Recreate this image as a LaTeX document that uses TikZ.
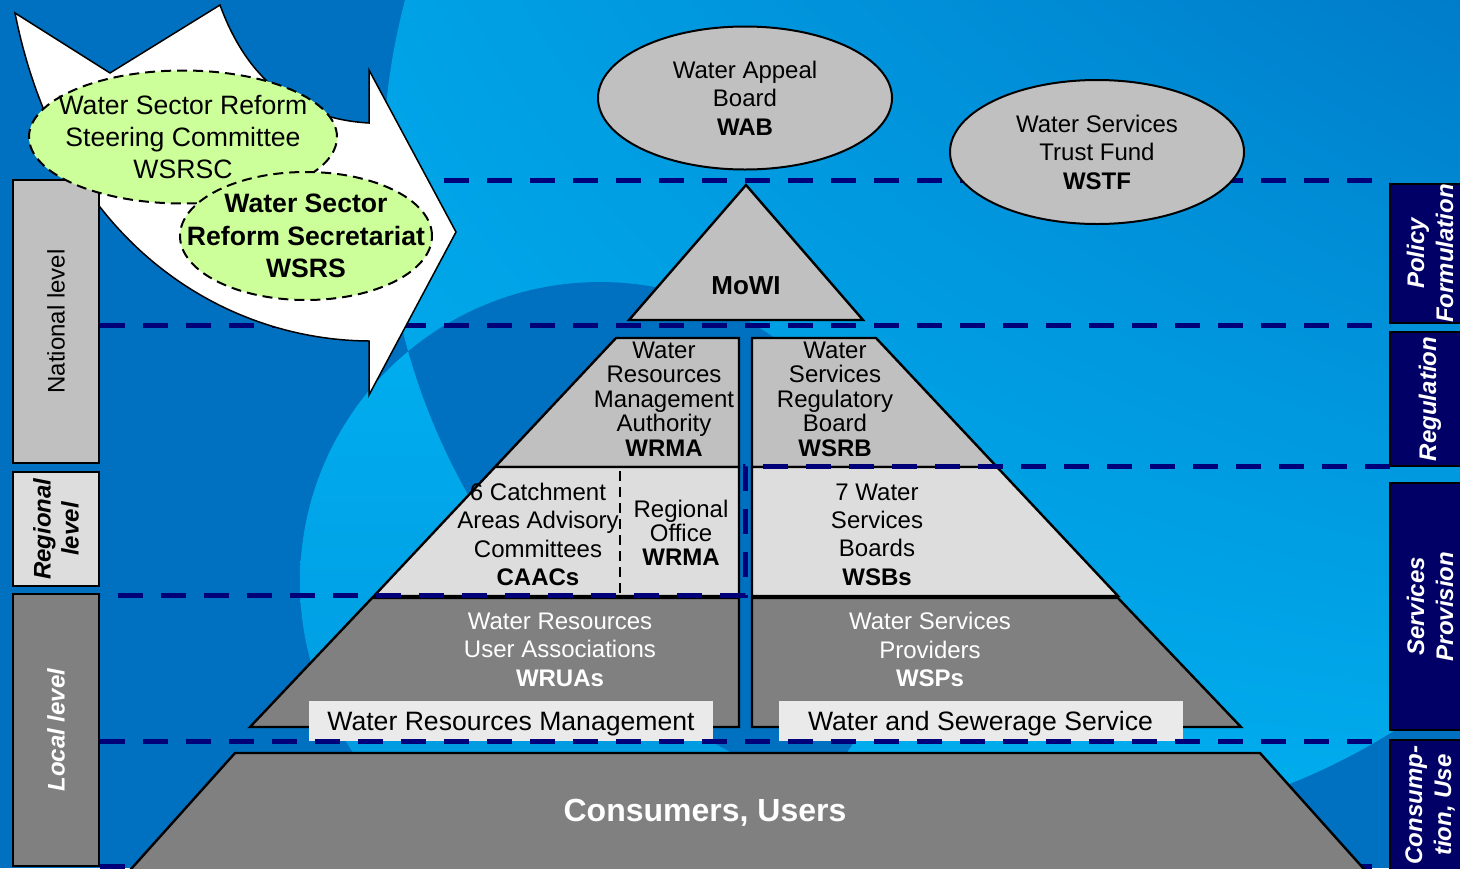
\documentclass[tikz,border=0pt]{standalone}
\usepackage{fontspec}
\setmainfont{Liberation Sans}
\usetikzlibrary{shapes.geometric,shadings}

\definecolor{bgDark}{RGB}{0,112,192}
\definecolor{bgLight}{RGB}{0,176,240}
\definecolor{bgMid}{RGB}{0,124,202}
\definecolor{bgSoft}{RGB}{0,150,222}
\definecolor{dashNavy}{RGB}{0,0,120}
\definecolor{roleNavy}{RGB}{0,0,102}
\definecolor{tierGray}{RGB}{192,192,192}
\definecolor{tierLight}{RGB}{221,221,221}
\definecolor{tierDark}{RGB}{128,128,128}
\definecolor{labelGray}{RGB}{234,234,234}
\definecolor{reformGreen}{RGB}{204,255,153}

\begin{document}
\begin{tikzpicture}[x=0.5pt,y=-0.5pt]
  \tikzstyle{levelDash} = [draw=dashNavy, line width=2.5pt, dash pattern=on 12.5pt off 9pt];
  \tikzstyle{tier} = [draw=black, line width=1.2pt];
  \tikzstyle{boardOval} = [ellipse, draw, line width=1pt, fill=tierGray, inner sep=0pt];
  \tikzstyle{reformOval} = [ellipse, draw, line width=1pt, dash pattern=on 5pt off 3pt, fill=reformGreen, inner sep=0pt];
  \tikzstyle{levelBox} = [draw, line width=1pt, rotate=90, inner sep=0pt, align=center];
  \tikzstyle{roleBox} = [draw, line width=1pt, fill=roleNavy, rotate=90, inner sep=0pt, align=center, text=white, font={\fontsize{12}{14.5}\selectfont\bfseries\itshape}];
  \tikzstyle{ovalText} = [align=center, font={\fontsize{12}{14.25}\selectfont}];
  \tikzstyle{reformText} = [align=center, font={\fontsize{13.3}{16.1}\selectfont}];
  \tikzstyle{tierText} = [align=center, font={\fontsize{12}{14.2}\selectfont}];
  \tikzstyle{tightText} = [align=center, font={\fontsize{12}{12.25}\selectfont}];
  \tikzstyle{serviceLabel} = [fill=labelGray, minimum width=202pt, minimum height=20pt, inner sep=0pt, text height=9.5pt, text depth=0pt, font={\fontsize{13.3}{16}\selectfont}];

  \useasboundingbox (0,0) rectangle (1460,868);
  \clip (0,0) rectangle (1460,868);

  % background bubbles
  \fill[bgDark] (0,0) rectangle (1460,868);
  \begin{scope}
    \clip (1044,170) circle (330.5pt);
    \shade[upper left=bgLight, upper right=bgMid, lower left=bgLight, lower right=bgLight] (0,0) rectangle (1460,868);
  \end{scope}
  \begin{scope}
    \clip (600,582) circle (150pt);
    \shade[top color=bgLight, bottom color=bgSoft] (300,282) rectangle (900,882);
  \end{scope}
  \begin{scope}
    \clip (1044,170) circle (330.5pt);
    \fill[bgDark] (600,582) circle (150pt);
  \end{scope}

  % level lines under the arrow
  \draw[levelDash] (100,180) -- (1390,180);
  \draw[levelDash] (100,325) -- (1390,325);
  \draw[levelDash] (100,866) -- (1390,866);

  % reform arrow
  \draw[fill=white, line width=0.75pt] (15,13) -- (110,73) -- (220,5)
    .. controls (240,60) and (280,118) .. (369,123) -- (369,70) -- (456,232)
    -- (369,395) -- (369,341) .. controls (220,340) and (60,240) .. (15,13) -- cycle;

  % levels on the left
  \node[levelBox, fill=tierGray, minimum width=141.5pt, minimum height=43pt, font={\fontsize{12}{14}\selectfont}] (national) at (56,321.5) {National level};
  \node[levelBox, fill=tierLight, minimum width=57pt, minimum height=43pt, font={\fontsize{12}{14}\selectfont\bfseries\itshape}] (regional) at (56,529) {Regional\\level};
  \node[levelBox, fill=tierDark, minimum width=136pt, minimum height=43pt, text=white, font={\fontsize{12}{14}\selectfont\bfseries\itshape}] (local) at (56,730) {Local level};

  % reform bodies
  \node[reformOval, minimum width=154pt, minimum height=66.5pt] (wsrsc) at (183,137) {};
  \node[reformText] at (wsrsc) {Water Sector Reform\\Steering Committee\\WSRSC};
  \node[reformOval, minimum width=126pt, minimum height=64pt] (wsrs) at (306,236) {};
  \node[reformText, font={\fontsize{13.3}{16.25}\selectfont\bfseries}] at (wsrs) {Water Sector\\Reform Secretariat\\WSRS};

  % boards
  \node[boardOval, minimum width=147pt, minimum height=71.5pt] (wab) at (745,98) {};
  \node[ovalText] at (wab) {Water Appeal\\Board\\\textbf{WAB}};
  \node[boardOval, minimum width=147pt, minimum height=72pt] (wstf) at (1097,152) {};
  \node[ovalText] at (wstf) {Water Services\\Trust Fund\\\textbf{WSTF}};

  % functions on the right
  \node[roleBox, minimum width=68.5pt, minimum height=40pt] (policy) at (1430,253.5) {Policy\\Formulation};
  \node[roleBox, minimum width=67pt, minimum height=40pt] (regulation) at (1430,399) {Regulation};
  \node[roleBox, minimum width=123.5pt, minimum height=40pt] (provision) at (1430,606.5) {Services\\Provision};
  \node[roleBox, minimum width=65pt, minimum height=40pt] (consumption) at (1430,805) {Consump-\\tion, Use};

  % pyramid
  \draw[tier, fill=tierGray] (746,185) -- (863,320) -- (629,320) -- cycle;
  \draw[tier, fill=tierGray] (616,338) -- (739,338) -- (739,467) -- (495,467) -- cycle;
  \draw[tier, fill=tierGray] (752,338) -- (876,338) -- (997,467) -- (752,467) -- cycle;
  \draw[tier, fill=tierLight] (495,467) -- (739,467) -- (739,596) -- (374,596) -- cycle;
  \draw[tier, fill=tierLight] (752,467) -- (997,467) -- (1118,596) -- (752,596) -- cycle;
  \draw[line width=1pt, dash pattern=on 5pt off 3pt] (620,471) -- (620,593);
  \draw[tier, fill=tierDark] (372,598) -- (739,598) -- (739,727) -- (250,727) -- cycle;
  \draw[tier, fill=tierDark] (752,598) -- (1118,598) -- (1241,727) -- (752,727) -- cycle;
  \draw[tier, fill=tierDark] (235,753) -- (1260,753) -- (1372,878) -- (123,878) -- cycle;

  \node[serviceLabel] (wrmLabel) at (511,720.5) {Water Resources Management};
  \node[serviceLabel] (wssLabel) at (980.5,720.5) {Water and Sewerage Service};

  % level lines over the pyramid
  \draw[levelDash] (1390,466) -- (745,466) -- (745,595) -- (100,595);
  \draw[levelDash] (100,741) -- (1390,741);

  % tier texts
  \node[font={\fontsize{13}{15}\selectfont\bfseries}] (mowi) at (746,286) {MoWI};
  \node[tightText] (wrma) at (664,399) {Water\\Resources\\Management\\Authority\\\textbf{WRMA}};
  \node[tightText] (wsrb) at (835,399) {Water\\Services\\Regulatory\\Board\\\textbf{WSRB}};
  \node[tierText] (caacs) at (538,534.5) {6 Catchment\\Areas Advisory\\Committees\\\textbf{CAACs}};
  \node[align=center, font={\fontsize{12}{12}\selectfont}] (office) at (681,533) {Regional\\Office\\\textbf{WRMA}};
  \node[tierText] (wsbs) at (877,534.5) {7 Water\\Services\\Boards\\\textbf{WSBs}};
  \node[tierText, text=white] (wruas) at (560,649.5) {Water Resources\\User Associations\\\textbf{WRUAs}};
  \node[tierText, text=white] (wsps) at (930,649.5) {Water Services\\Providers\\\textbf{WSPs}};
  \node[text=white, font={\fontsize{16}{18}\selectfont\bfseries}] (consumers) at (705,813) {Consumers, Users};
\end{tikzpicture}
\end{document}
